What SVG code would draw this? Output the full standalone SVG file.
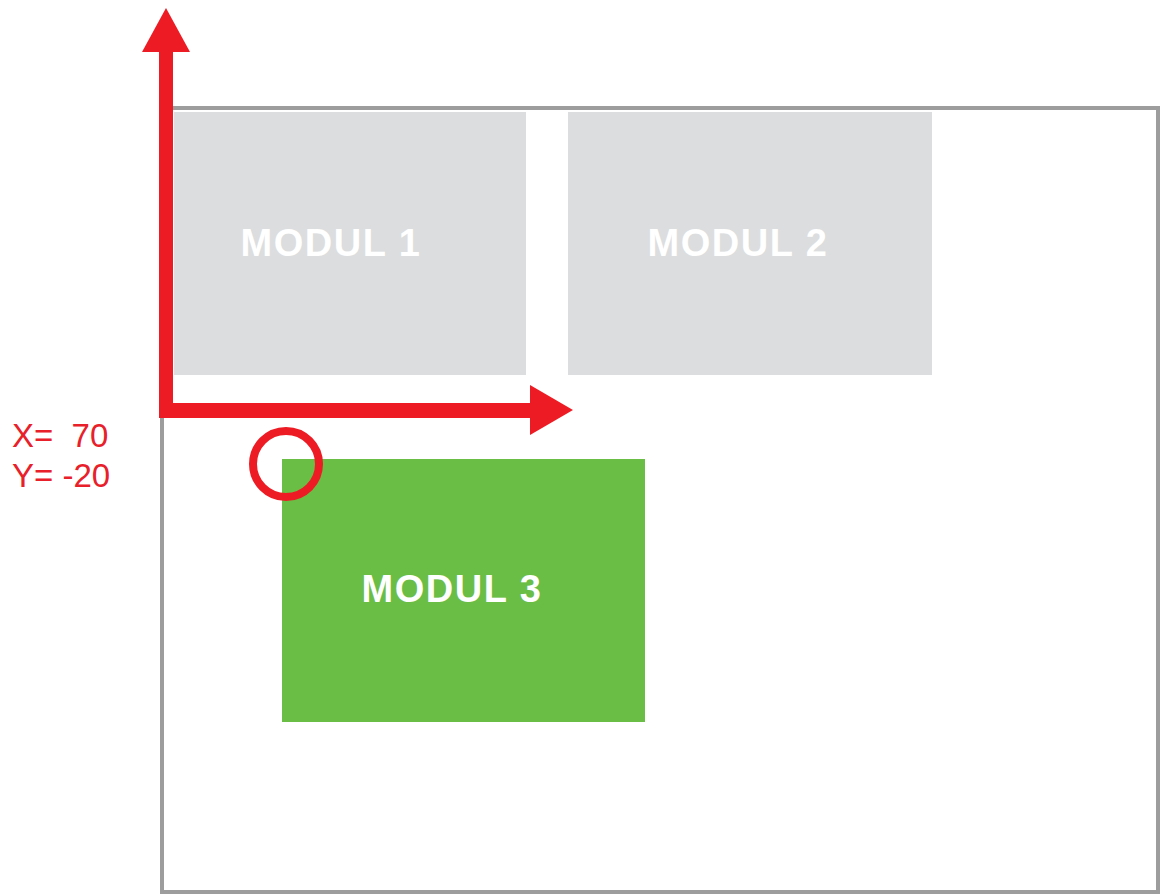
<svg xmlns="http://www.w3.org/2000/svg" width="1162" height="894" viewBox="0 0 1162 894">
<style>
.mod{font-family:"Liberation Sans",Arial,sans-serif;font-weight:bold;font-size:38px;fill:#ffffff;text-anchor:middle;letter-spacing:1.5px}
.lbl{font-family:"Liberation Sans",Arial,sans-serif;font-size:33px;fill:#e8202a}
.red{fill:#ed1c24}
</style>
<rect width="1162" height="894" fill="#ffffff"/>
<g id="frame"><rect x="162" y="108" width="996" height="784" fill="none" stroke="#9d9d9d" stroke-width="4"/></g>
<g id="modul1"><rect x="174" y="112" width="352" height="263" fill="#dcddde"/><text class="mod" x="331" y="256">MODUL 1</text></g>
<g id="modul2"><rect x="568" y="112" width="364" height="263" fill="#dcddde"/><text class="mod" x="738" y="256">MODUL 2</text></g>
<g id="modul3"><rect x="282" y="459" width="363" height="263" fill="#6abd45"/><text class="mod" x="452" y="602">MODUL 3</text></g>
<g id="connectors">
<rect class="red" x="159" y="48" width="14" height="370"/>
<polygon class="red" points="166,8 190,52 142,52"/>
<rect class="red" x="159" y="403" width="375" height="15"/>
<polygon class="red" points="573,410 530,385 530,435"/>
<circle cx="286" cy="464" r="33" fill="none" stroke="#ed1c24" stroke-width="8"/>
</g>
<g id="labels">
<text class="lbl" x="12" y="447" xml:space="preserve">X=  70</text>
<text class="lbl" x="12" y="487">Y= -20</text>
</g>
</svg>
